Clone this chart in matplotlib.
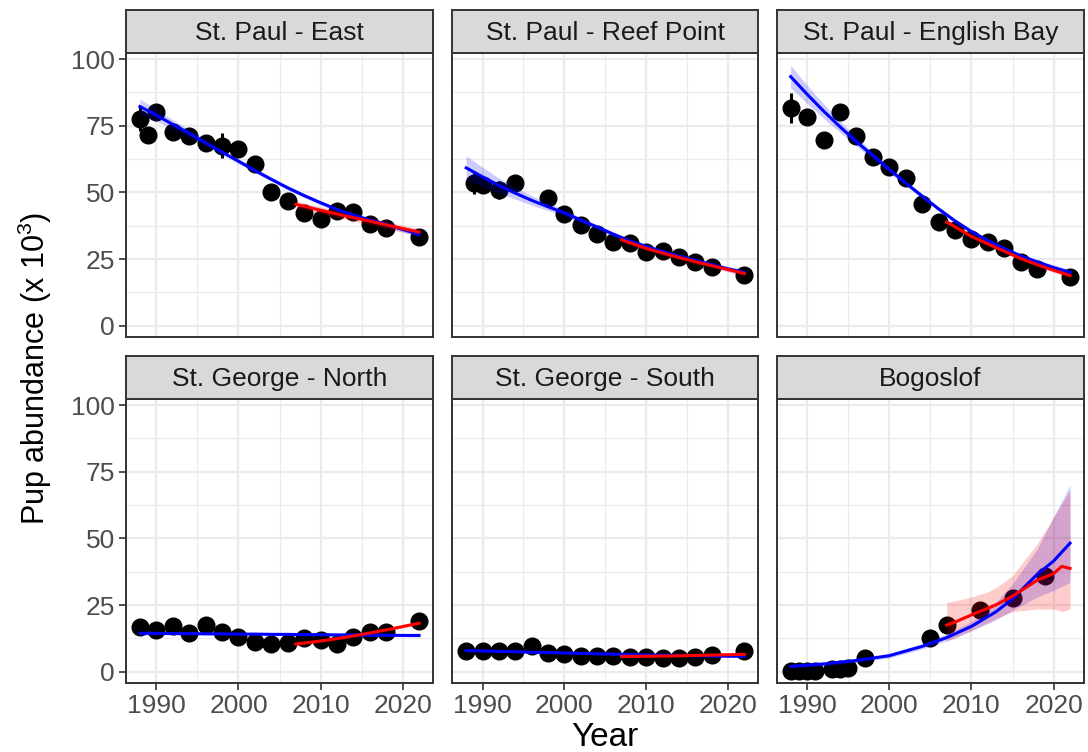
import numpy as np
import matplotlib
matplotlib.use("Agg")
import matplotlib.pyplot as plt
from matplotlib.ticker import MultipleLocator

plt.rcParams['font.family'] = ['Liberation Sans', 'DejaVu Sans']
plt.rcParams['mathtext.default'] = 'regular'

# ---------------------------------------------------------------
# data (pup counts in thousands)
# ---------------------------------------------------------------
sites = ["St. Paul - East", "St. Paul - Reef Point", "St. Paul - English Bay",
         "St. George - North", "St. George - South", "Bogoslof"]

yrs_east = [1988, 1989, 1990, 1992, 1994, 1996, 1998, 2000, 2002, 2004,
            2006, 2008, 2010, 2012, 2014, 2016, 2018, 2022]
pups_east = [77.4, 71.5, 80.2, 72.7, 71.1, 68.4, 67.5, 66.1, 60.5, 50.2,
             46.8, 42.2, 40.0, 43.0, 42.5, 38.1, 36.7, 33.4]

yrs_reef = [1989, 1990, 1992, 1994, 1998, 2000, 2002, 2004, 2006, 2008,
            2010, 2012, 2014, 2016, 2018, 2022]
pups_reef = [53.4, 52.8, 50.9, 53.4, 47.8, 41.9, 37.8, 34.4, 31.3, 30.9,
             27.8, 28.1, 25.6, 23.8, 22.1, 19.0]

yrs_eng = [1988, 1990, 1992, 1994, 1996, 1998, 2000, 2002, 2004, 2006,
           2008, 2010, 2012, 2014, 2016, 2018, 2022]
pups_eng = [81.7, 78.4, 69.6, 80.0, 71.1, 63.4, 59.6, 55.3, 45.6, 38.8,
            35.9, 32.5, 31.5, 29.0, 24.0, 21.3, 18.4]

yrs_stg = [1988, 1990, 1992, 1994, 1996, 1998, 2000, 2002, 2004, 2006,
           2008, 2010, 2012, 2014, 2016, 2018, 2022]
pups_north = [16.6, 15.6, 17.1, 14.4, 17.5, 14.8, 13.1, 11.2, 10.4, 10.6,
              12.5, 11.9, 10.4, 13.1, 14.8, 15.0, 19.1]
pups_south = [7.9, 7.6, 7.9, 7.6, 9.7, 7.2, 6.7, 6.0, 6.0, 6.0,
              5.7, 5.7, 5.3, 5.3, 5.7, 6.3, 7.6]

yrs_bog = [1988, 1989, 1990, 1991, 1993, 1994, 1995, 1997, 2005, 2007,
           2011, 2015, 2019]
pups_bog = [0.3, 0.3, 0.3, 0.4, 0.9, 1.2, 1.5, 5.1, 12.7, 17.5,
            23.1, 27.5, 35.9]

# standard errors shown as vertical bars
err_yrs_east = [1988, 1998]
err_east = [4.5, 4.7]
err_yrs_reef = [1989, 1992, 1998, 2000]
err_reef = [4.0, 3.5, 2.5, 2.5]
err_yrs_eng = [1988, 1996, 1998]
err_eng = [5.5, 2.0, 2.5]

# long-term trend (blue) with band half-widths
trend_yrs = [1988, 1990, 1992, 1994, 1996, 1998, 2000, 2002, 2004, 2006,
             2008, 2010, 2012, 2014, 2016, 2018, 2020, 2022]
trend_east = [82.2, 78.9, 75.5, 72.1, 68.6, 65.1, 61.7, 58.2, 54.9, 51.7,
              48.8, 46.1, 43.6, 41.5, 39.6, 38.0, 36.1, 34.3]
band_east = [2.8, 2.2, 1.7, 1.4, 1.2, 1.0, 0.9, 0.8, 0.8, 0.8,
             0.8, 0.8, 0.8, 0.8, 0.8, 0.9, 1.0, 1.1]
trend_reef = [59.2, 55.8, 52.6, 49.7, 47.0, 44.6, 42.3, 39.6, 37.0, 34.3,
              31.8, 29.7, 27.8, 26.1, 24.5, 22.9, 21.3, 20.0]
band_reef = [4.5, 3.6, 2.8, 2.2, 1.8, 1.4, 1.2, 1.0, 0.9, 0.8,
             0.8, 0.8, 0.8, 0.8, 0.8, 0.9, 1.0, 1.1]
trend_eng = [93.4, 86.8, 80.5, 74.6, 69.0, 63.8, 58.6, 53.5, 48.6, 43.8,
             39.3, 35.3, 31.9, 28.9, 26.2, 23.9, 21.8, 20.0]
band_eng = [4.2, 3.4, 2.7, 2.1, 1.7, 1.4, 1.2, 1.0, 0.9, 0.8,
            0.8, 0.8, 0.8, 0.8, 0.8, 0.9, 1.0, 1.1]
trend_north = [14.4, 14.4, 14.3, 14.3, 14.2, 14.2, 14.1, 14.1, 14.0, 14.0,
               13.9, 13.9, 13.8, 13.8, 13.7, 13.7, 13.6, 13.6]
band_north = [0.7, 0.6, 0.5, 0.5, 0.4, 0.4, 0.4, 0.4, 0.4, 0.4,
              0.4, 0.4, 0.4, 0.4, 0.4, 0.5, 0.5, 0.6]
trend_south = [7.9, 7.8, 7.6, 7.5, 7.3, 7.2, 7.0, 6.9, 6.7, 6.6,
               6.4, 6.3, 6.2, 6.1, 6.0, 5.9, 5.8, 5.8]
band_south = [0.4, 0.4, 0.3, 0.3, 0.3, 0.3, 0.3, 0.3, 0.3, 0.3,
              0.3, 0.3, 0.3, 0.3, 0.3, 0.3, 0.3, 0.4]
trend_bog_yrs = [1988, 1992, 1996, 2000, 2004, 2007, 2010, 2013, 2015,
                 2018, 2020, 2022]
trend_bog = [2.0, 2.9, 4.2, 6.0, 9.5, 12.8, 17.0, 22.5, 27.3, 36.5, 41.5, 48.2]
trend_bog_lo = [1.2, 2.2, 3.4, 5.2, 8.5, 11.6, 15.3, 19.5, 23.0, 28.0, 30.5, 33.5]
trend_bog_hi = [3.0, 3.7, 5.0, 6.9, 10.5, 14.2, 18.8, 26.0, 33.0, 46.0, 58.0, 70.0]

# recent trend (red)
recent_yrs = [2007, 2010, 2013, 2016, 2019, 2022]
recent_east = [45.5, 43.3, 41.2, 39.2, 37.1, 35.1]
recent_reef = [32.2, 29.0, 26.4, 24.0, 21.8, 19.6]
recent_eng = [38.9, 33.5, 29.3, 25.2, 21.8, 18.8]
recent_north = [10.4, 11.5, 12.9, 14.5, 16.3, 18.2]
recent_south = [5.7, 5.8, 5.9, 6.1, 6.3, 6.5]
recent_band = [1.3, 0.8, 0.8, 0.6, 0.4]
recent_bog_yrs = [2007, 2008, 2010, 2012, 2013, 2015, 2018, 2020, 2021, 2022]
recent_bog = [17.5, 18.6, 21.3, 23.8, 25.1, 28.3, 34.3, 36.8, 39.5, 38.7]
recent_bog_lo = [11.5, 12.5, 15.5, 18.5, 20.0, 22.5, 23.5, 23.5, 22.5, 23.5]
recent_bog_hi = [26.0, 26.5, 28.0, 30.0, 31.5, 36.0, 48.0, 58.0, 63.0, 68.0]

# ---------------------------------------------------------------
# assemble per panel
# ---------------------------------------------------------------
t_east, t_reef, t_eng, t_north, t_south = [np.array(v) for v in
    (trend_east, trend_reef, trend_eng, trend_north, trend_south)]
panels = [
    dict(x=yrs_east, y=pups_east, ex=err_yrs_east, ey=err_east,
         tx=trend_yrs, ty=t_east, tlo=t_east - band_east, thi=t_east + band_east,
         rx=recent_yrs, ry=recent_east, rb=recent_band[0]),
    dict(x=yrs_reef, y=pups_reef, ex=err_yrs_reef, ey=err_reef,
         tx=trend_yrs, ty=t_reef, tlo=t_reef - band_reef, thi=t_reef + band_reef,
         rx=recent_yrs, ry=recent_reef, rb=recent_band[1]),
    dict(x=yrs_eng, y=pups_eng, ex=err_yrs_eng, ey=err_eng,
         tx=trend_yrs, ty=t_eng, tlo=t_eng - band_eng, thi=t_eng + band_eng,
         rx=recent_yrs, ry=recent_eng, rb=recent_band[2]),
    dict(x=yrs_stg, y=pups_north, ex=[], ey=[],
         tx=trend_yrs, ty=t_north, tlo=t_north - band_north, thi=t_north + band_north,
         rx=recent_yrs, ry=recent_north, rb=recent_band[3]),
    dict(x=yrs_stg, y=pups_south, ex=[], ey=[],
         tx=trend_yrs, ty=t_south, tlo=t_south - band_south, thi=t_south + band_south,
         rx=recent_yrs, ry=recent_south, rb=recent_band[4]),
    dict(x=yrs_bog, y=pups_bog, ex=[], ey=[],
         tx=trend_bog_yrs, ty=trend_bog, tlo=trend_bog_lo, thi=trend_bog_hi,
         rx=recent_bog_yrs, ry=recent_bog, rlo=recent_bog_lo, rhi=recent_bog_hi),
]

# ---------------------------------------------------------------
# figure layout (pixel boxes of the ggplot-like facets)
# ---------------------------------------------------------------
W, H = 1088, 752
fig = plt.figure(figsize=(W / 100, H / 100), dpi=100)

col_x = [(126, 433), (452.3, 758.3), (776.7, 1084)]
row_y = [(52.9, 336.9), (398.9, 682.9)]
strip_h = 43

GRID = "#EBEBEB"
DARK = "#333333"
TXT = "#4D4D4D"
FS = 19

for i, (name, p) in enumerate(zip(sites, panels)):
    r, c = divmod(i, 3)
    x0, x1 = col_x[c]
    y0, y1 = row_y[r]
    ax = fig.add_axes([x0 / W, 1 - y1 / H, (x1 - x0) / W, (y1 - y0) / H])
    ax.set_xlim(1986.3, 2023.7)
    ax.set_ylim(-4.2, 102.3)
    ax.xaxis.set_major_locator(MultipleLocator(10))
    ax.xaxis.set_minor_locator(MultipleLocator(5))
    ax.yaxis.set_major_locator(MultipleLocator(25))
    ax.yaxis.set_minor_locator(MultipleLocator(12.5))
    ax.grid(which="major", color=GRID, lw=1.6, zorder=0)
    ax.grid(which="minor", color=GRID, lw=0.9, zorder=0)
    ax.set_axisbelow(True)
    for sp in ax.spines.values():
        sp.set_color(DARK)
        sp.set_linewidth(1.4)

    ax.tick_params(which="minor", length=0)
    ax.tick_params(which="major", length=5, width=1.2, color=DARK,
                   labelsize=FS, labelcolor=TXT, pad=3)
    if c != 0:
        ax.tick_params(axis="y", which="major", length=0, labelleft=False)
    if r == 0:
        ax.tick_params(axis="x", which="major", length=0, labelbottom=False)

    # observed counts
    ax.plot(p["x"], p["y"], "o", color="black", ms=12, zorder=2)
    if len(p["ex"]):
        ey_pts = [p["y"][p["x"].index(yr)] for yr in p["ex"]]
        ax.errorbar(p["ex"], ey_pts, yerr=p["ey"], fmt="none",
                    ecolor="black", elinewidth=2.2, capsize=0, zorder=2)

    # long-term trend
    ax.fill_between(p["tx"], p["tlo"], p["thi"], color="#0000FF",
                    alpha=0.2, lw=0, zorder=3)
    ax.plot(p["tx"], p["ty"], color="#0000FF", lw=2.2, zorder=4)

    # recent trend
    ry = np.array(p["ry"])
    rlo = p.get("rlo", ry - p.get("rb", 0))
    rhi = p.get("rhi", ry + p.get("rb", 0))
    ax.fill_between(p["rx"], rlo, rhi, color="#FF0000", alpha=0.2,
                    lw=0, zorder=3)
    ax.plot(p["rx"], ry, color="#FF0000", lw=2.2, zorder=5)

    # facet strip
    sax = fig.add_axes([x0 / W, 1 - y0 / H, (x1 - x0) / W, strip_h / H])
    sax.set_facecolor("#D9D9D9")
    sax.set_xticks([])
    sax.set_yticks([])
    for sp in sax.spines.values():
        sp.set_color(DARK)
        sp.set_linewidth(1.4)
    sax.text(0.5, 0.47, name, ha="center", va="center", fontsize=FS,
             color="#1A1A1A", transform=sax.transAxes)

fig.text(605 / W, 1 - 737 / H, "Year", ha="center", va="center", fontsize=24)
fig.text(35 / W, 1 - 368 / H, "Pup abundance (x 10$^{3}$)", ha="center",
         va="center", rotation=90, fontsize=22)

fig.savefig("out.png", dpi=100)
